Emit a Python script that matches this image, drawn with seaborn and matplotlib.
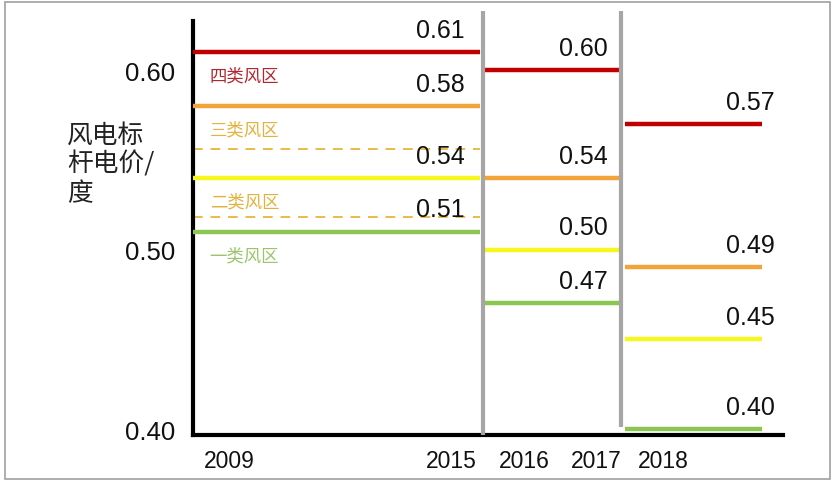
import matplotlib

matplotlib.use("Agg")
import matplotlib.pyplot as plt
import pandas as pd
import seaborn as sns
from matplotlib.patches import Rectangle


# data
zones = ["四类风区", "三类风区", "二类风区", "一类风区"]
periods = ["2009-2015", "2016-2017", "2018"]
price_2009_2015 = [0.61, 0.58, 0.54, 0.51]
price_2016_2017 = [0.60, 0.54, 0.50, 0.47]
price_2018 = [0.57, 0.49, 0.45, 0.40]
dashed_levels = [0.556, 0.518]
year_labels = ["2009", "2015", "2016", "2017", "2018"]
y_ticks = [0.40, 0.50, 0.60]
y_label = "风电标\n杆电价/\n度"

# layout (horizontal units = pixels right of the y axis)
seg_start = [0, 292, 432]
seg_end = [287, 426, 569]
dividers = [290, 428]
year_pos = [36, 258, 331, 403, 470]
label_dx = [-11, -8, 9]

line_colors = {"四类风区": "#C00000", "三类风区": "#F2A43A",
               "二类风区": "#F7F71E", "一类风区": "#8CC652"}
text_colors = {"四类风区": "#B3262E", "三类风区": "#E3B23C",
               "二类风区": "#E3B23C", "一类风区": "#9CC46C"}


def build_frame() -> pd.DataFrame:
    rows = []
    for i, values in enumerate([price_2009_2015, price_2016_2017, price_2018]):
        for zone, v in zip(zones, values):
            rows.append({"x": seg_start[i], "price": v, "zone": zone, "period": periods[i]})
            rows.append({"x": seg_end[i], "price": v, "zone": zone, "period": periods[i]})
    return pd.DataFrame(rows)


def main() -> None:
    sns.set_theme(style="white")
    plt.rcParams["font.family"] = ["Liberation Sans", "Noto Sans CJK SC", "DejaVu Sans"]

    W, H = 835, 485
    fig = plt.figure(figsize=(W / 100, H / 100), dpi=100)
    ax = fig.add_axes([193 / W, (H - 436) / H, 590 / W, 414 / H])

    frame = build_frame()
    sns.lineplot(data=frame, x="x", y="price", hue="zone", units="period",
                 estimator=None, palette=line_colors, linewidth=3.2,
                 legend=False, ax=ax, zorder=3)
    for line in ax.lines:
        line.set_solid_capstyle("butt")

    ax.hlines(dashed_levels, seg_start[0], seg_end[0], colors="#E8BC45",
              linewidth=1.4, linestyles=(0, (5, 4)), zorder=2)

    ylo, yhi = 0.3967, 0.6273
    ax.set_xlim(0, 590)
    ax.set_ylim(ylo, yhi)

    top = yhi + 10 / 1795
    ax.vlines(dividers[0], ylo, top, colors="#A6A6A6", linewidth=3, clip_on=False, zorder=4)
    ax.vlines(dividers[1], 0.4011, top, colors="#A6A6A6", linewidth=3, clip_on=False, zorder=4)

    for i, values in enumerate([price_2009_2015, price_2016_2017, price_2018]):
        for v in values:
            ax.annotate(f"{v:.2f}", xy=(seg_end[i], v), xytext=(label_dx[i], 16),
                        textcoords="offset points", ha="right", va="center",
                        fontsize=18, color="#111111")

    for zone, v in zip(zones, price_2009_2015):
        ax.annotate(zone, xy=(seg_start[0], v), xytext=(12, -17),
                    textcoords="offset points", ha="left", va="center",
                    fontsize=12.5, color=text_colors[zone],
                    family=["Noto Sans CJK SC", "DejaVu Sans"])

    ax.set_xticks(year_pos)
    ax.set_xticklabels(year_labels, fontsize=16.5)
    ax.set_yticks(y_ticks)
    ax.set_yticklabels([f"{t:.2f}" for t in y_ticks], fontsize=18.5)
    ax.tick_params(axis="x", length=0, pad=10, colors="#111111")
    ax.tick_params(axis="y", length=0, pad=13, colors="#111111")
    ax.set_xlabel("")
    ax.set_ylabel(y_label, rotation=0, ha="left", va="center", fontsize=18.5,
                  linespacing=1.15, family=["Noto Sans CJK SC", "DejaVu Sans"],
                  color="#222222")
    ax.yaxis.set_label_coords(-0.214, 0.655)

    sns.despine(ax=ax)
    for side in ("left", "bottom"):
        ax.spines[side].set_color("black")
        ax.spines[side].set_linewidth(3)
    ax.grid(False)

    fig.patches.append(Rectangle((5 / W, 5 / H), 825 / W, 477 / H, transform=fig.transFigure,
                                 fill=False, edgecolor="#A0A0A0", linewidth=1.2))

    fig.savefig("out.png", dpi=100)
    plt.close(fig)


if __name__ == "__main__":
    main()
